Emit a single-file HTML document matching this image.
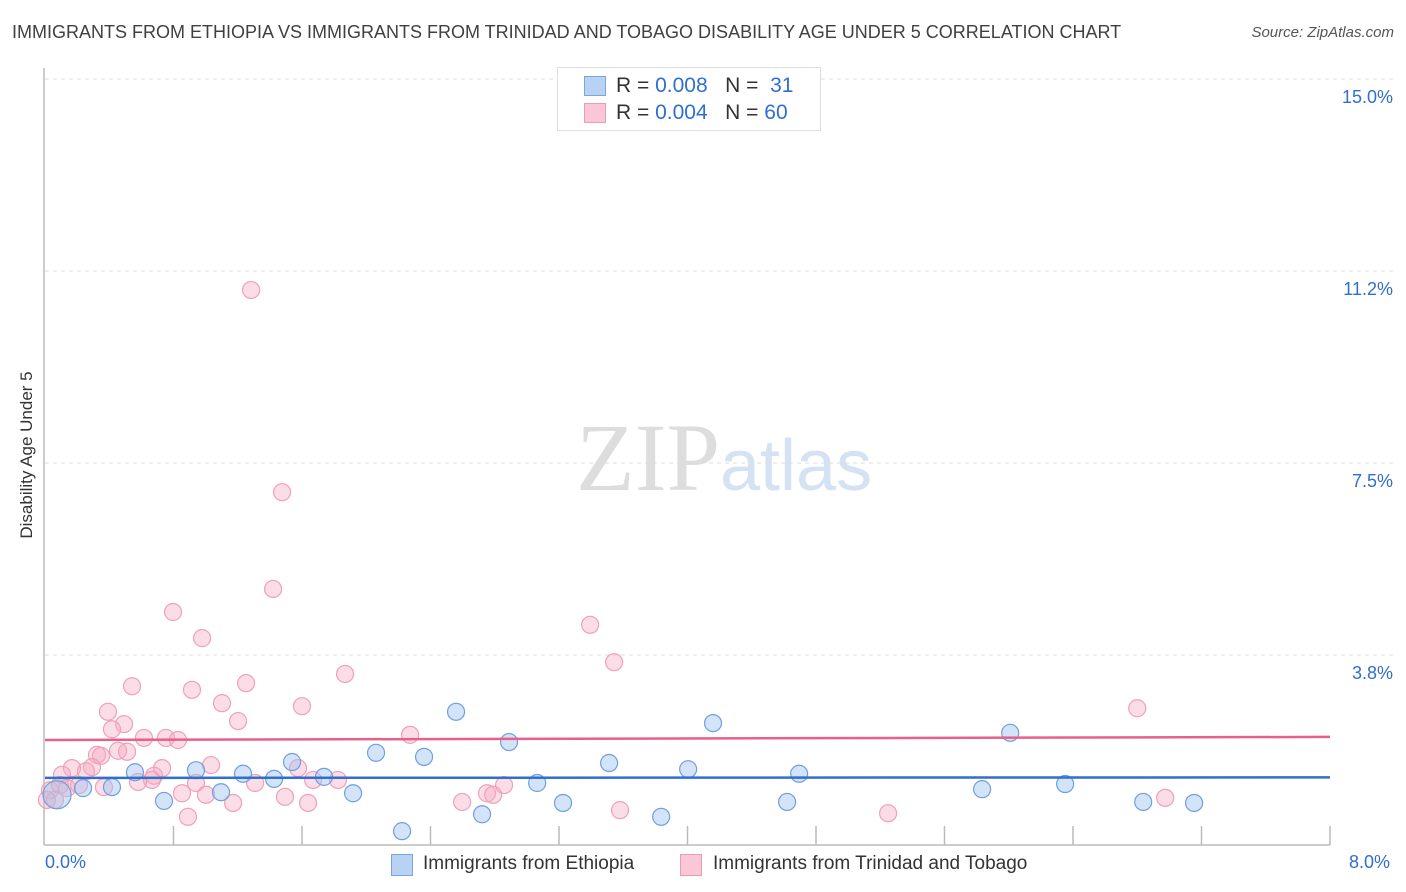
<!DOCTYPE html>
<html><head><meta charset="utf-8"><style>
body{margin:0;background:#fff;font-family:"Liberation Sans",sans-serif}
#wrap{position:relative;width:1406px;height:892px;overflow:hidden}
.t{position:absolute;white-space:nowrap}
</style></head><body>
<div id="wrap">
<div class="t" style="left:12px;top:22px;font-size:18px;color:#404040">IMMIGRANTS FROM ETHIOPIA VS IMMIGRANTS FROM TRINIDAD AND TOBAGO DISABILITY AGE UNDER 5 CORRELATION CHART</div>
<div class="t" style="right:12px;top:24px;font-size:15px;color:#555;font-style:italic">Source: ZipAtlas.com</div>
<div class="t" style="left:18px;top:455px;font-size:17px;color:#333;transform:translate(-50%,-50%) rotate(-90deg);transform-origin:center;left:27px">Disability Age Under 5</div>
<svg id="svg" width="1406" height="892" style="position:absolute;left:0;top:0">
<text x="720" y="490" font-family="Liberation Serif,serif" font-size="96" fill="#ddd" text-anchor="end">ZIP</text>
<text x="720" y="490" font-family="Liberation Sans,sans-serif" font-size="72" fill="#d4e2f4">atlas</text>
<g id="grid"></g><g id="pts"></g><g id="lines"></g>
</svg>
<div class="t" style="left:557px;top:67px;width:262px;height:62px;border:1px solid #ddd;background:#fff">
 <div class="t" style="left:26px;top:8px;width:20px;height:18px;background:#b8d2f4;border:1px solid #7aa6e0"></div>
 <div class="t" style="left:58px;top:6px;font-size:21px;color:#333">R = <span style="color:#2f6fd0">0.008</span> &nbsp; N = &nbsp;<span style="color:#2f6fd0">31</span></div>
 <div class="t" style="left:26px;top:35px;width:20px;height:18px;background:#fac7d6;border:1px solid #f09ab2"></div>
 <div class="t" style="left:58px;top:33px;font-size:21px;color:#333">R = <span style="color:#2f6fd0">0.004</span> &nbsp; N = <span style="color:#2f6fd0">60</span></div>
</div>
<div class="t" style="left:45px;top:852px;font-size:18px;color:#2f6fd0">0.0%</div>
<div class="t" style="left:1349px;top:852px;font-size:18px;color:#2f6fd0">8.0%</div>
<div class="t" style="left:391px;top:854px;width:20px;height:20px;background:#b8d2f4;border:1px solid #7aa6e0"></div>
<div class="t" style="left:423px;top:853px;font-size:19px;color:#333">Immigrants from Ethiopia</div>
<div class="t" style="left:680px;top:854px;width:20px;height:20px;background:#fac7d6;border:1px solid #f09ab2"></div>
<div class="t" style="left:713px;top:853px;font-size:19px;color:#333">Immigrants from Trinidad and Tobago</div>
</div>
<script>
const yTicks=[3.75,7.5,11.25,15];
const yTickLabels=["3.8%","7.5%","11.2%","15.0%"];
const blueX=[0.075,0.237,0.417,0.560,0.741,0.940,1.096,1.233,1.426,1.538,1.737,1.918,2.061,2.223,2.360,2.559,2.721,2.889,3.064,3.225,3.512,3.836,4.004,4.159,4.620,4.695,5.834,6.009,6.351,6.837,7.154];
const blueY=[1.02,1.15,1.17,1.46,0.90,1.50,1.07,1.43,1.33,1.66,1.37,1.05,1.84,0.31,1.76,2.64,0.64,2.05,1.25,0.86,1.64,0.59,1.52,2.42,0.88,1.43,1.13,2.23,1.23,0.88,0.86];
const pinkX=[1.283,1.476,1.420,0.797,0.978,3.394,3.543,1.868,0.542,1.252,0.915,1.102,1.600,0.392,6.800,0.492,1.202,0.417,0.616,0.753,0.828,2.273,0.324,0.349,0.455,0.511,0.168,0.293,0.255,0.106,0.679,0.729,0.666,0.579,1.034,1.575,0.940,1.308,1.669,1.824,0.031,0.093,0.137,0.212,0.853,1.002,1.171,1.494,1.638,2.597,2.752,2.790,2.858,3.580,5.249,0.890,6.974,0.062,0.012,0.367];
const pinkY=[10.88,6.93,5.04,4.59,4.08,4.34,3.61,3.38,3.14,3.20,3.07,2.81,2.75,2.64,2.71,2.40,2.46,2.30,2.13,2.13,2.09,2.19,1.80,1.78,1.88,1.86,1.54,1.56,1.48,1.41,1.39,1.54,1.31,1.27,1.60,1.54,1.25,1.25,1.31,1.31,1.11,1.21,1.15,1.21,1.05,1.02,0.86,0.98,0.86,0.88,1.05,1.02,1.21,0.72,0.66,0.59,0.96,0.92,0.92,1.17];
const blueTrend=[1.35,1.36];
const pinkTrend=[2.09,2.15];
const xDomain=[0,8];
const xs=v=>45+v*(1330-45)/8, ys=v=>847-v*51.2;
const NS="http://www.w3.org/2000/svg";
function mk(tag,attrs,parent){const e=document.createElementNS(NS,tag);for(const k in attrs)e.setAttribute(k,attrs[k]);parent.appendChild(e);return e;}
const g=document.getElementById('grid');
yTicks.forEach((t,i)=>{
 const l=mk('line',{x1:45,x2:1393,y1:ys(t),y2:ys(t),stroke:'#ddd','stroke-dasharray':'4,4'},g);
 
 
 const tx=mk('text',{x:1393,y:ys(t)+24,'text-anchor':'end','font-size':18,fill:'#2f6fd0','font-family':'Liberation Sans,sans-serif'},g);
 tx.textContent=yTickLabels[i];
 
 
});
const ax=mk('line',{x1:44,x2:44,y1:68,y2:845,stroke:'#bbb','stroke-width':1.5},g);


const bx=mk('line',{x1:44,x2:1330,y1:845,y2:845,stroke:'#bbb','stroke-width':1.5},g);


for(let i=1;i<=10;i++){const t=mk('line',{x1:xs(i*0.8),x2:xs(i*0.8),y1:826,y2:845,stroke:'#bbb','stroke-width':1.5},g);
 
 }
const p=document.getElementById('pts');
pinkX.forEach((x,i)=>{const c=mk('circle',{cx:xs(x),cy:ys(pinkY[i]),r:8.5,fill:'rgba(246,170,195,0.4)',stroke:'#f0a0b8','stroke-width':1.2},p);
 
 });
blueX.forEach((x,i)=>{const c=mk('circle',{cx:xs(x),cy:ys(blueY[i]),r:i==0?14:8.5,fill:'rgba(160,195,240,0.45)',stroke:'#6f9fe0','stroke-width':1.2},p);
 
 });
const L=document.getElementById('lines');
const tb=mk('line',{x1:xs(xDomain[0]),x2:xs(xDomain[1]),y1:ys(blueTrend[0]),y2:ys(blueTrend[1]),stroke:'#2f6fd0','stroke-width':2.5},L);


const tp=mk('line',{x1:xs(xDomain[0]),x2:xs(xDomain[1]),y1:ys(pinkTrend[0]),y2:ys(pinkTrend[1]),stroke:'#e8608a','stroke-width':2.5},L);


</script>
</body></html>
